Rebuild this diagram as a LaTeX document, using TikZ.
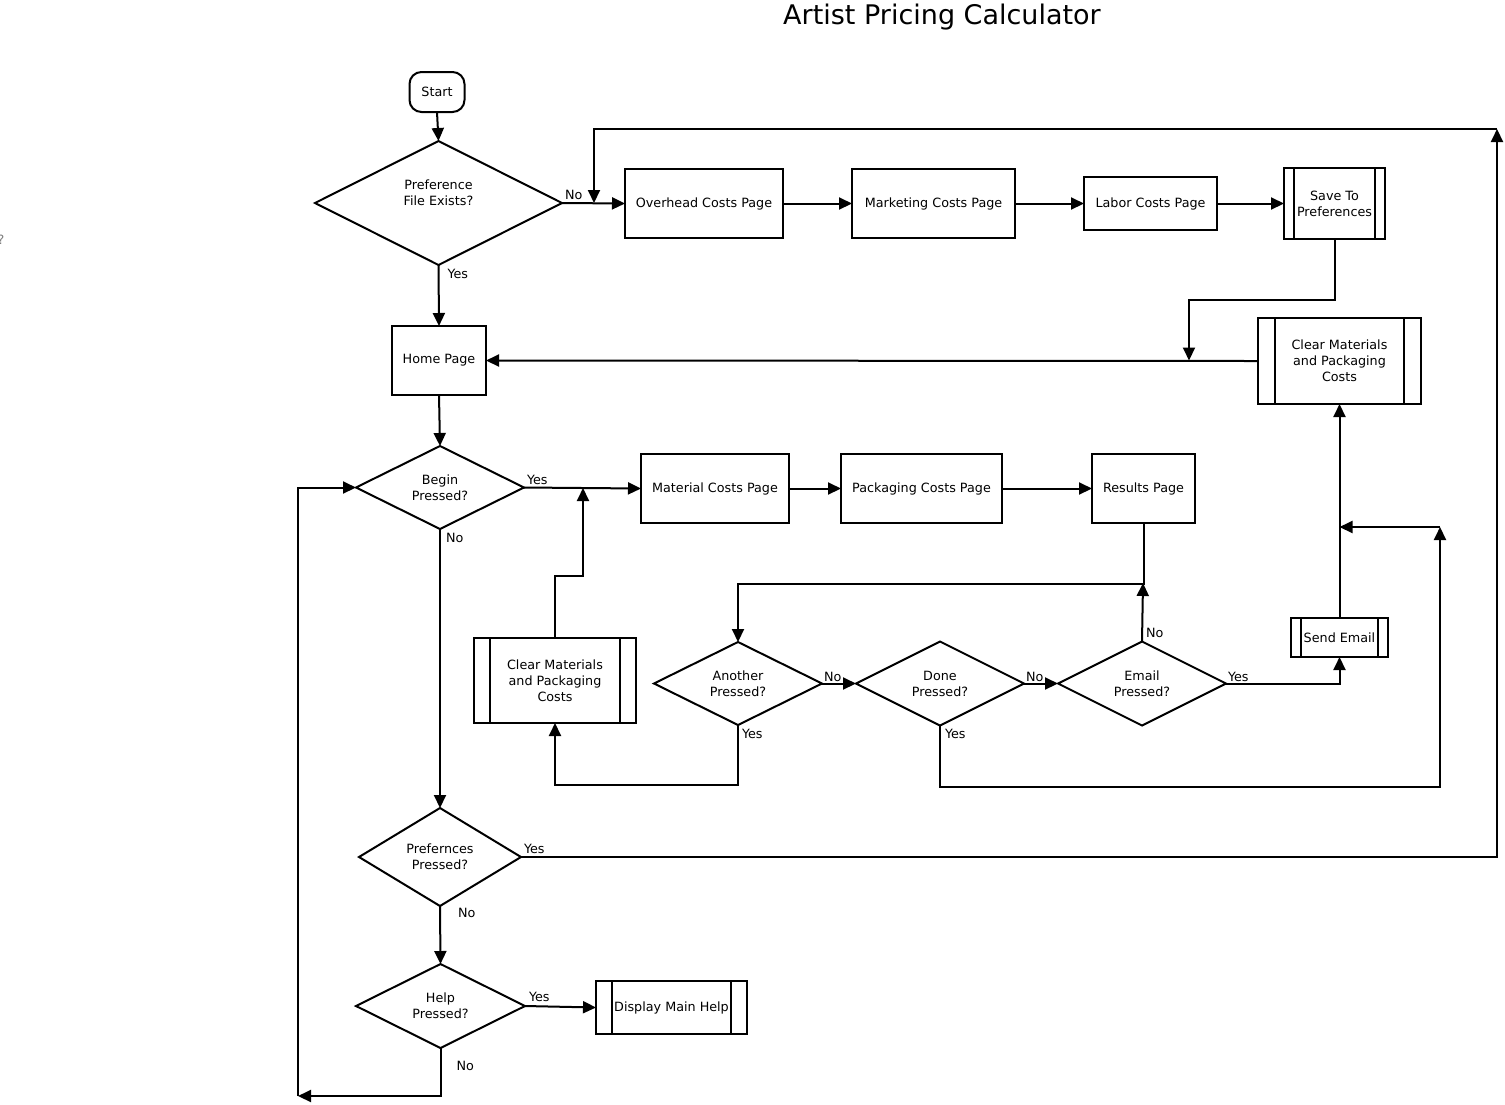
\documentclass[tikz,border=0pt]{standalone}
\usepackage{fontspec}
\setmainfont{DejaVu Sans}
\usetikzlibrary{shapes.geometric}
\usetikzlibrary{positioning}
\usetikzlibrary{arrows.meta}

\begin{document}
\begin{tikzpicture}[x=1pt,y=-1pt]
      \tikzset{base/.style={draw, line width=2pt, inner sep=0pt, outer sep=0pt,
        align=center, font=\fontsize{12.75}{16}\selectfont}};
      \tikzset{page/.style={base, rectangle}};
      \tikzset{sub/.style={page, path picture={
        \draw[line width=2pt] ([xshift=#1]path picture bounding box.north west)
          -- ([xshift=#1]path picture bounding box.south west)
          ([xshift=-#1]path picture bounding box.north east)
          -- ([xshift=-#1]path picture bounding box.south east);}}};
      \tikzset{decide/.style={base, diamond, aspect=2}};
      \tikzset{term/.style={base, rectangle, rounded corners=12pt}};
      \tikzset{flow/.style={line width=2pt, -{Triangle[length=13pt,width=12pt]}}};
      \tikzset{lbl/.style={font=\fontsize{12.75}{16}\selectfont, inner sep=3pt}};
      \useasboundingbox (0,0) rectangle (1505,1104);

      \node[font=\fontsize{27}{32}\selectfont](title) at (942,17){Artist Pricing Calculator};
      \node[lbl, text=gray](qmark) at (1,240){?};

      % start and preferences
      \node[term, minimum width=55pt, minimum height=40pt](start) at (437,92){Start};
      \node[decide, minimum width=247pt, minimum height=124pt, text depth=20pt](pref) at (438.5,203){Preference\\File Exists?};
      \node[page, minimum width=158pt, minimum height=69pt](overhead) at (704,203.5){Overhead Costs Page};
      \node[page, minimum width=163pt, minimum height=69pt, right = 69pt of overhead](marketing){Marketing Costs Page};
      \node[page, minimum width=133pt, minimum height=53pt, right = 69pt of marketing](labor){Labor Costs Page};
      \node[sub=10pt, minimum width=101pt, minimum height=71pt, right = 67pt of labor](save){Save To\\Preferences};
      \node[sub=17pt, minimum width=163pt, minimum height=86pt](clearR) at (1339.5,361){Clear Materials\\and Packaging\\Costs};
      \node[page, minimum width=94pt, minimum height=69pt](home) at (439,360.5){Home Page};

      % begin branch
      \node[decide, minimum width=168pt, minimum height=83pt](begin) at (440,487.5){Begin\\Pressed?};
      \node[page, minimum width=148pt, minimum height=69pt](material) at (715,488.5){Material Costs Page};
      \node[page, minimum width=161pt, minimum height=69pt, right = 52pt of material](packaging){Packaging Costs Page};
      \node[page, minimum width=103pt, minimum height=69pt, right = 90pt of packaging](results){Results Page};
      \node[sub=16pt, minimum width=162pt, minimum height=85pt](clearL) at (555,680.5){Clear Materials\\and Packaging\\Costs};
      \node[decide, minimum width=168pt, minimum height=83pt](another) at (738,683.5){Another\\Pressed?};
      \node[decide, minimum width=168pt, minimum height=84pt, right = 34pt of another](done){Done\\Pressed?};
      \node[decide, minimum width=168pt, minimum height=84pt, right = 34pt of done](email){Email\\Pressed?};
      \node[sub=10pt, minimum width=97pt, minimum height=39pt](send) at (1339.5,637.5){Send Email};

      % lower menu
      \node[decide, minimum width=162pt, minimum height=98pt](prefs) at (440,857){Prefernces\\Pressed?};
      \node[decide, minimum width=169pt, minimum height=84pt](help) at (440.5,1006){Help\\Pressed?};
      \node[sub=16pt, minimum width=151pt, minimum height=53pt](display) at (671.5,1007.5){Display Main Help};

      \coordinate (prefup) at (1497,129);
      \coordinate (nojoin) at (594,203);
      \coordinate (savejoin) at (1189,360.5);
      \coordinate (yesjoin) at (583,488);
      \coordinate (resjoin) at (1143,583);
      \coordinate (doneup) at (1440,527);
      \coordinate (leftdown) at (298,1096);

      % top row
      \draw[flow] (start.south) -- (pref.north);
      \draw[flow] (pref.east) -- node[lbl, pos=0, above right, inner sep=2pt]{No} (overhead.west);
      \draw[flow] (overhead.east) -- (marketing.west);
      \draw[flow] (marketing.east) -- (labor.west);
      \draw[flow] (labor.east) -- (save.west);
      \draw[flow] (save.south) -- ++(0,61) -| (savejoin);
      \draw[flow] (clearR.west) -- (home.east);
      \draw[flow] (pref.south) -- node[lbl, pos=0, below right, xshift=5pt]{Yes} (home.north);
      \draw[flow] (home.south) -- (begin.north);

      % begin row
      \draw[flow] (begin.east) -- node[lbl, pos=0, above right, inner sep=2pt]{Yes} (material.west);
      \draw[flow] (material.east) -- (packaging.west);
      \draw[flow] (packaging.east) -- (results.west);
      \draw[flow] (results.south) -- ++(0,61) -| (another.north);
      \draw[flow] (clearL.north) -- ++(0,-62) -| (yesjoin);
      \draw[flow] (another.east) -- node[lbl, pos=0, above right, inner sep=1pt]{No} (done.west);
      \draw[flow] (done.east) -- node[lbl, pos=0, above right, inner sep=1pt]{No} (email.west);
      \draw[flow] (email.north) -- node[lbl, pos=0, above right]{No} (resjoin);
      \draw[flow] (email.east) -- node[lbl, pos=0, above right, inner sep=1pt]{Yes} ++(113,0) -| (send.south);
      \draw[flow] (send.north) -- (clearR.south);
      \draw[flow] (another.south) -- node[lbl, pos=0, below right]{Yes} ++(0,60) -| (clearL.south);
      \draw[flow] (done.south) -- node[lbl, pos=0, below right, xshift=1pt]{Yes} ++(0,61) -| (doneup);
      \draw[flow] (doneup) -- (send.north |- doneup);

      % menu column
      \draw[flow] (begin.south) -- node[lbl, pos=0, below right, xshift=2pt]{No} (prefs.north);
      \draw[flow] (prefs.east) -- node[lbl, pos=0, above right, inner sep=2pt]{Yes} ++(976,0) -- (prefup);
      \draw[flow] (prefs.south) -- node[lbl, pos=0, below right, xshift=14pt, yshift=2pt]{No} (help.north);
      \draw[flow] (prefup) -| (nojoin);
      \draw[flow] (help.east) -- node[lbl, pos=0, above right]{Yes} (display.west);
      \draw[flow] (help.south) -- node[lbl, pos=0, below right, xshift=12pt, yshift=-9pt]{No} ++(0,48) -- (leftdown);
      \draw[flow] (leftdown) |- (begin.west);
    \end{tikzpicture}
\end{document}
